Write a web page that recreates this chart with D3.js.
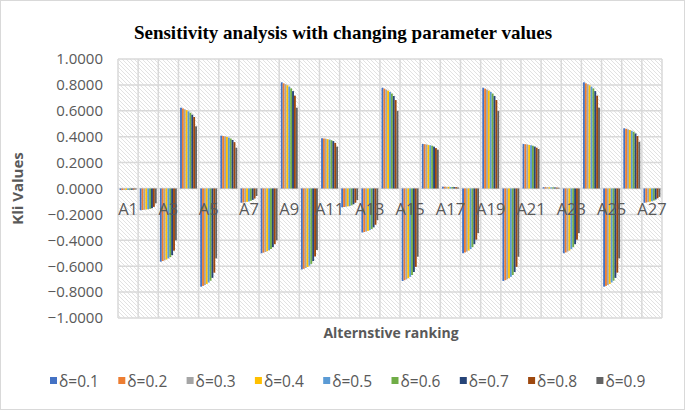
<!DOCTYPE html>
<html>
<head>
<meta charset="utf-8">
<script src="https://cdn.jsdelivr.net/npm/d3@7"></script>
<style>
  body { margin: 0; background: #fff; }
  svg { display: block; }
</style>
</head>
<body>
<div id="chart"></div>
<script>
// alternatives A1..A27
const alternatives = d3.range(1, 28).map(i => "A" + i);
const deltas = ["δ=0.1", "δ=0.2", "δ=0.3", "δ=0.4", "δ=0.5", "δ=0.6", "δ=0.7", "δ=0.8", "δ=0.9"];
const colors = ["#4472C4", "#ED7D31", "#A5A5A5", "#FFC000", "#5B9BD5", "#70AD47", "#264478", "#9E480E", "#636363"];
const yTicks = [-1, -0.8, -0.6, -0.4, -0.2, 0, 0.2, 0.4, 0.6, 0.8, 1];
const shownLabels = ["A1", "A3", "A5", "A7", "A9", "A11", "A13", "A15", "A17", "A19", "A21", "A23", "A25", "A27"];

// one row per alternative, one value per delta
const kli = [
  [-0.012, -0.012, -0.011, -0.011, -0.011, -0.010, -0.010, -0.009, -0.008],
  [-0.168, -0.166, -0.164, -0.162, -0.160, -0.157, -0.152, -0.142, -0.115],
  [-0.565, -0.560, -0.555, -0.548, -0.540, -0.530, -0.515, -0.480, -0.400],
  [0.624, 0.618, 0.612, 0.605, 0.596, 0.585, 0.570, 0.552, 0.480],
  [-0.758, -0.752, -0.745, -0.737, -0.726, -0.712, -0.690, -0.650, -0.540],
  [0.408, 0.405, 0.402, 0.398, 0.393, 0.386, 0.375, 0.358, 0.315],
  [-0.110, -0.108, -0.106, -0.103, -0.100, -0.095, -0.088, -0.078, -0.058],
  [-0.500, -0.495, -0.490, -0.484, -0.477, -0.467, -0.453, -0.430, -0.400],
  [0.820, 0.812, 0.805, 0.797, 0.787, 0.773, 0.752, 0.717, 0.624],
  [-0.625, -0.620, -0.614, -0.606, -0.596, -0.582, -0.560, -0.525, -0.475],
  [0.388, 0.386, 0.384, 0.381, 0.378, 0.373, 0.366, 0.352, 0.323],
  [-0.145, -0.143, -0.141, -0.138, -0.135, -0.130, -0.122, -0.110, -0.090],
  [-0.340, -0.336, -0.332, -0.327, -0.321, -0.313, -0.300, -0.280, -0.245],
  [0.778, 0.771, 0.764, 0.756, 0.746, 0.733, 0.714, 0.683, 0.598],
  [-0.714, -0.708, -0.701, -0.693, -0.682, -0.668, -0.645, -0.605, -0.527],
  [0.344, 0.342, 0.340, 0.337, 0.334, 0.330, 0.323, 0.312, 0.300],
  [0.014, 0.014, 0.013, 0.013, 0.012, 0.012, 0.011, 0.010, 0.008],
  [-0.500, -0.494, -0.487, -0.479, -0.468, -0.453, -0.430, -0.395, -0.345],
  [0.778, 0.771, 0.764, 0.756, 0.746, 0.733, 0.714, 0.683, 0.598],
  [-0.714, -0.708, -0.701, -0.693, -0.682, -0.668, -0.645, -0.605, -0.527],
  [0.344, 0.342, 0.340, 0.337, 0.334, 0.330, 0.324, 0.315, 0.305],
  [0.010, 0.010, 0.010, 0.009, 0.009, 0.009, 0.008, 0.007, 0.006],
  [-0.500, -0.494, -0.487, -0.479, -0.468, -0.453, -0.430, -0.395, -0.345],
  [0.820, 0.812, 0.805, 0.797, 0.787, 0.773, 0.752, 0.717, 0.624],
  [-0.758, -0.752, -0.745, -0.737, -0.726, -0.712, -0.690, -0.650, -0.540],
  [0.465, 0.461, 0.457, 0.452, 0.446, 0.438, 0.425, 0.405, 0.361],
  [-0.110, -0.108, -0.105, -0.102, -0.098, -0.093, -0.085, -0.075, -0.065]
];

const W = 685, H = 410;
const margin = {top: 59, right: 23, bottom: 92, left: 118};
const width = W - margin.left - margin.right,
      height = H - margin.top - margin.bottom;
const font = "'Open Sans', sans-serif";

const svg = d3.select("#chart").append("svg")
    .attr("width", W)
    .attr("height", H);

// chart border
svg.append("rect")
    .attr("x", 0.5).attr("y", 0.5)
    .attr("width", W - 1).attr("height", H - 1)
    .attr("fill", "#fff")
    .attr("stroke", "#d9d9d9");

// hatch for plot area
const pat = svg.append("defs").append("pattern")
    .attr("id", "hatch")
    .attr("patternUnits", "userSpaceOnUse")
    .attr("width", 4).attr("height", 4);
pat.append("rect").attr("width", 4).attr("height", 4).attr("fill", "#fff");
pat.append("path")
    .attr("d", "M-1,-1 L5,5 M-1,3 L1,5 M3,-1 L5,1")
    .attr("stroke", "#e2e2e2")
    .attr("stroke-width", 1);

svg.append("text")
    .text("Sensitivity analysis with changing parameter values")
    .attr("x", 343).attr("y", 39)
    .attr("text-anchor", "middle")
    .style("font-family", "'Liberation Serif', serif")
    .style("font-weight", "bold")
    .style("font-size", "19px")
    .attr("fill", "#000");

const g = svg.append("g")
    .attr("transform", `translate(${margin.left},${margin.top})`);

g.append("rect")
    .attr("width", width).attr("height", height)
    .attr("fill", "url(#hatch)");

const x = d3.scaleBand()
    .domain(alternatives)
    .range([0, width])
    .paddingInner(0.16)
    .paddingOuter(0.08);

const xs = d3.scaleBand()
    .domain(deltas)
    .range([0, x.bandwidth()]);

const y = d3.scaleLinear()
    .domain([-1, 1])
    .range([height, 0]);

// horizontal gridlines
g.append("g")
    .selectAll("line")
    .data(yTicks)
    .join("line")
    .attr("x1", 0).attr("x2", width)
    .attr("y1", d => y(d)).attr("y2", d => y(d))
    .attr("stroke", "#d9d9d9")
    .attr("stroke-width", 1.5);

// vertical gridlines between categories
g.append("g")
    .selectAll("line")
    .data(d3.range(alternatives.length + 1))
    .join("line")
    .attr("x1", i => i * width / alternatives.length)
    .attr("x2", i => i * width / alternatives.length)
    .attr("y1", 0).attr("y2", height)
    .attr("stroke", "#d9d9d9")
    .attr("stroke-width", 1.5);

// y axis
const yAxis = g.append("g")
    .call(d3.axisLeft(y).tickValues(yTicks).tickFormat(d3.format(".4f")).tickSize(0).tickPadding(15));
yAxis.select(".domain").remove();
yAxis.selectAll("text")
    .style("font-family", font)
    .style("font-size", "15px")
    .attr("fill", "#595959");

// bars
const groups = g.append("g")
    .selectAll("g")
    .data(kli)
    .join("g")
    .attr("transform", (d, i) => `translate(${x(alternatives[i])},0)`);

groups.selectAll("rect")
    .data(d => d.map((v, j) => ({v: v, s: deltas[j], c: colors[j]})))
    .join("rect")
    .attr("x", d => xs(d.s))
    .attr("width", xs.bandwidth())
    .attr("y", d => y(Math.max(0, d.v)))
    .attr("height", d => Math.abs(y(d.v) - y(0)))
    .attr("fill", d => d.c);

// category labels sit next to the zero line
const xAxis = g.append("g")
    .attr("transform", `translate(0,${y(0)})`)
    .call(d3.axisBottom(x).tickValues(shownLabels).tickSize(0).tickPadding(15));
xAxis.select(".domain").remove();
xAxis.selectAll("text")
    .style("font-family", font)
    .style("font-size", "16.5px")
    .attr("fill", "#595959");

// axis titles
svg.append("text")
    .text("Kli Values")
    .attr("transform", `translate(23,${margin.top + y(0)}) rotate(-90)`)
    .attr("text-anchor", "middle")
    .style("font-family", font)
    .style("font-weight", "bold")
    .style("font-size", "15px")
    .attr("fill", "#595959");

svg.append("text")
    .text("Alternstive ranking")
    .attr("x", 391).attr("y", 338)
    .attr("text-anchor", "middle")
    .style("font-family", font)
    .style("font-weight", "bold")
    .style("font-size", "14px")
    .attr("fill", "#595959");

// legend
const legend = svg.append("g")
    .attr("transform", "translate(50,381)");
const item = legend.selectAll("g")
    .data(deltas)
    .join("g")
    .attr("transform", (d, i) => `translate(${i * 68.3},0)`);
item.append("rect")
    .attr("x", 0).attr("y", -4)
    .attr("width", 7).attr("height", 7)
    .attr("fill", (d, i) => colors[i]);
item.append("text")
    .text(d => d)
    .attr("x", 9).attr("y", 5.5)
    .style("font-family", font)
    .style("font-size", "15.5px")
    .attr("fill", "#595959");
</script>
</body>
</html>
